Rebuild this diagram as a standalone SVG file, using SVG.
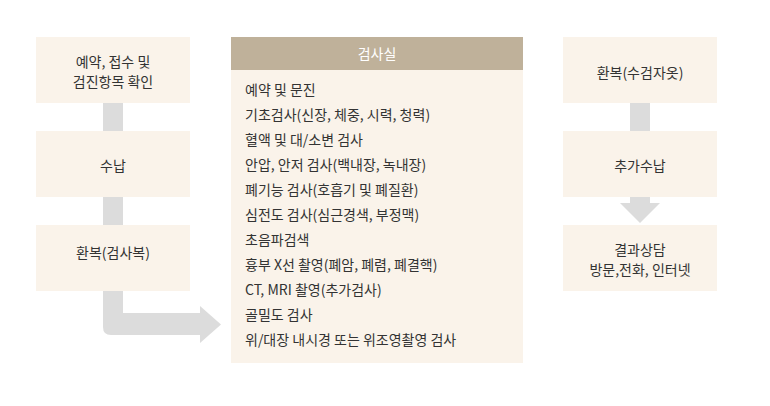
<svg xmlns="http://www.w3.org/2000/svg" width="770" height="406" viewBox="0 0 770 406">
<style>
.box{fill:#faf3ea}
.conn{fill:#dcdcdc}
text{font-family:"Noto Sans CJK KR","Noto Sans",sans-serif;font-size:14px;fill:#333333;dominant-baseline:central}
.c{text-anchor:middle}
.hd{fill:#ffffff;font-size:14px}
</style>
<rect width="770" height="406" fill="#ffffff"/>
<g id="connectors">
<rect class="conn" x="103" y="103" width="20" height="28"/>
<rect class="conn" x="103" y="197" width="20" height="28"/>
<path class="conn" d="M103 291 H123 V313 H200 V306 L221 324.5 L200 343 V335 H111 Q103 335 103 327 Z"/>
<rect class="conn" x="630" y="103" width="20" height="28"/>
<path class="conn" d="M630 197 H650 V203 H660 L640 223 L620 203 H630 Z"/>
</g>
<g id="n1"><rect class="box" x="36" y="37" width="154" height="66"/><text class="c" x="113" y="61">예약, 접수 및</text><text class="c" x="113" y="81">검진항목 확인</text></g>
<g id="n2"><rect class="box" x="36" y="131" width="154" height="66"/><text class="c" x="113" y="165">수납</text></g>
<g id="n3"><rect class="box" x="36" y="225" width="154" height="66"/><text class="c" x="113" y="252">환복(검사복)</text></g>
<g id="n4">
<rect class="box" x="231" y="37" width="292" height="326"/>
<rect x="231" y="37" width="292" height="33" fill="#bfb19a"/>
<text class="c hd" x="377" y="53">검사실</text>
<text x="245" y="89">예약 및 문진</text>
<text x="245" y="114">기초검사(신장, 체중, 시력, 청력)</text>
<text x="245" y="139">혈액 및 대/소변 검사</text>
<text x="245" y="164">안압, 안저 검사(백내장, 녹내장)</text>
<text x="245" y="189">폐기능 검사(호흡기 및 폐질환)</text>
<text x="245" y="214">심전도 검사(심근경색, 부정맥)</text>
<text x="245" y="239">초음파검색</text>
<text x="245" y="264">흉부 X선 촬영(폐암, 폐렴, 폐결핵)</text>
<text x="245" y="289">CT, MRI 촬영(추가검사)</text>
<text x="245" y="314">골밀도 검사</text>
<text x="245" y="339">위/대장 내시경 또는 위조영촬영 검사</text>
</g>
<g id="n5"><rect class="box" x="563" y="37" width="154" height="66"/><text class="c" x="640" y="72">환복(수검자옷)</text></g>
<g id="n6"><rect class="box" x="563" y="131" width="154" height="66"/><text class="c" x="640" y="165">추가수납</text></g>
<g id="n7"><rect class="box" x="563" y="225" width="154" height="66"/><text class="c" x="640" y="249">결과상담</text><text class="c" x="640" y="269">방문,전화, 인터넷</text></g>
</svg>
